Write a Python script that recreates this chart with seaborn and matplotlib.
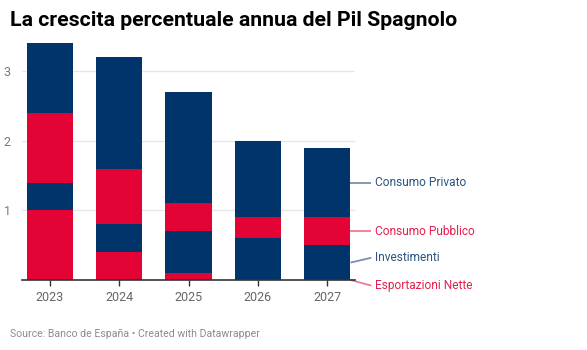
import numpy as np
import pandas as pd
import matplotlib
matplotlib.use("Agg")
import matplotlib.pyplot as plt
import seaborn as sns

years = ["2023", "2024", "2025", "2026", "2027"]
esportazioni_nette = [1.0, 0.4, 0.1, 0.0, 0.0]
investimenti = [0.4, 0.4, 0.6, 0.6, 0.5]
consumo_pubblico = [1.0, 0.8, 0.4, 0.3, 0.4]
consumo_privato = [1.0, 1.6, 1.6, 1.1, 1.0]
series_names = ["Esportazioni Nette", "Investimenti", "Consumo Pubblico", "Consumo Privato"]
y_ticks = [1, 2, 3]

NAVY = "#01346A"
RED = "#E30334"
colors = [RED, NAVY, RED, NAVY]
label_colors = ["#E3204C", "#2C5480", "#E3204C", "#2C5480"]
line_colors = ["#F07A93", "#7990AC", "#F07A93", "#7990AC"]

sns.set_theme(style="white")
plt.rcParams["font.family"] = ["Roboto", "DejaVu Sans"]

df = pd.DataFrame({"year": years,
                   series_names[0]: esportazioni_nette,
                   series_names[1]: investimenti,
                   series_names[2]: consumo_pubblico,
                   series_names[3]: consumo_privato})
cum = df[series_names].cumsum(axis=1)

fig = plt.figure(figsize=(5.87, 3.5), dpi=100)
ax = fig.add_axes([22 / 587, 1 - 280 / 350, (355 - 22) / 587, (280 - 40) / 350])

for i in range(len(series_names) - 1, -1, -1):
    name = series_names[i]
    sns.barplot(x=df["year"], y=cum[name], order=years, color=colors[i],
                width=0.67, saturation=1, ax=ax, edgecolor="none", linewidth=0)

ax.set_xlim(-0.4, 4.4)
ax.set_ylim(0, 3.45)
ax.set_yticks(y_ticks)
ax.set_yticklabels([str(t) for t in y_ticks])
ax.grid(axis="y", color="#E6E6E6", linewidth=0.9)
ax.set_axisbelow(True)
for s in ["top", "right", "left"]:
    ax.spines[s].set_visible(False)
ax.spines["bottom"].set_color("#333333")
ax.spines["bottom"].set_linewidth(1.2)
ax.tick_params(axis="y", length=0, labelsize=9, labelcolor="#7A7A7A", pad=8)
ax.tick_params(axis="x", length=4, width=1, color="#333333", labelsize=9,
               labelcolor="#666666", pad=4, bottom=True)
ax.set_xlabel("")
ax.set_ylabel("")

# direct labels for the last bar
last = len(years) - 1
vals = [esportazioni_nette, investimenti, consumo_pubblico, consumo_privato]
mids = [cum.iloc[last, i] - vals[i][last] / 2 for i in range(len(series_names))]
label_y = [mids[0] - 0.08, mids[1] + 0.07, mids[2], mids[3]]
x_edge = last + 0.335
for i, name in enumerate(series_names):
    ax.plot([x_edge, x_edge + 0.3], [mids[i], label_y[i]], color=line_colors[i],
            lw=1.3, clip_on=False, solid_capstyle="butt")
    ax.text(x_edge + 0.35, label_y[i], name, color=label_colors[i], fontsize=8.6,
            va="center", ha="left", clip_on=False)

fig.text(10 / 587, 1 - 21 / 350, "La crescita percentuale annua del Pil Spagnolo",
         fontsize=15.3, fontweight="bold", color="#000000", va="center", ha="left")
fig.text(10 / 587, 1 - 334 / 350, "Source: Banco de España • Created with Datawrapper",
         fontsize=7.6, color="#8C8C8C", va="center", ha="left")

fig.savefig("out.png", dpi=100)
